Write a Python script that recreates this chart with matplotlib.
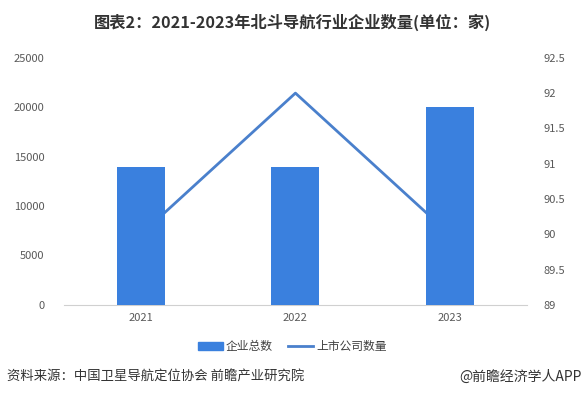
import matplotlib.pyplot as plt
from matplotlib.patches import Patch
from matplotlib.lines import Line2D

plt.rcParams['font.family'] = ['Noto Sans CJK SC', 'DejaVu Sans']

years = ['2021', '2022', '2023']
total = [14000, 14000, 20000]      # 企业总数
listed = [90, 92, 90]              # 上市公司数量

bar_color = '#3a80de'
line_color = '#4a80cc'
tick_color = '#595959'

fig = plt.figure(figsize=(5.85, 3.96), dpi=100)
ax = fig.add_axes([0.109, 0.230, 0.792, 0.624])
ax2 = ax.twinx()

x = range(len(years))
ax.bar(x, total, width=0.31, color=bar_color, zorder=3)
ax2.plot(x, listed, color=line_color, linewidth=2.0)

# bars sit in front of the line
ax.set_zorder(ax2.get_zorder() + 1)
ax.patch.set_visible(False)

ax.set_xlim(-0.5, 2.5)
ax.set_ylim(0, 25000)
ax.set_yticks(range(0, 25001, 5000))
ax2.set_ylim(89, 92.5)
ax2.set_yticks([89, 89.5, 90, 90.5, 91, 91.5, 92, 92.5])
ax2.set_yticklabels(['89', '89.5', '90', '90.5', '91', '91.5', '92', '92.5'])
ax.set_xticks(list(x))
ax.set_xticklabels(years)

for a in (ax, ax2):
    for s in a.spines.values():
        s.set_visible(False)
    a.tick_params(length=0, labelsize=8, colors=tick_color)
ax.spines['bottom'].set_visible(True)
ax.spines['bottom'].set_color('#d0d0d0')
ax.tick_params(axis='x', pad=6)
ax.tick_params(axis='y', pad=14)
ax2.tick_params(axis='y', pad=12)

fig.text(0.5, 0.944, '图表2：2021-2023年北斗导航行业企业数量(单位：家)',
         ha='center', va='center', fontsize=11.7, fontweight='bold', color='#333333')

handles = [Patch(color=bar_color), Line2D([0], [0], color=line_color, linewidth=2.0)]
fig.legend(handles, ['企业总数', '上市公司数量'], loc='center', bbox_to_anchor=(0.5, 0.124),
           ncol=2, frameon=False, fontsize=8.5, handlelength=2.1, handleheight=0.6,
           columnspacing=1.3, handletextpad=0.25, labelcolor='#404040')

fig.text(0.012, 0.048, '资料来源：中国卫星导航定位协会 前瞻产业研究院',
         ha='left', va='center', fontsize=9.6, color='#333333')
fig.text(0.995, 0.048, '@前瞻经济学人APP',
         ha='right', va='center', fontsize=10, color='#333333')

fig.savefig('out.png', dpi=100)
